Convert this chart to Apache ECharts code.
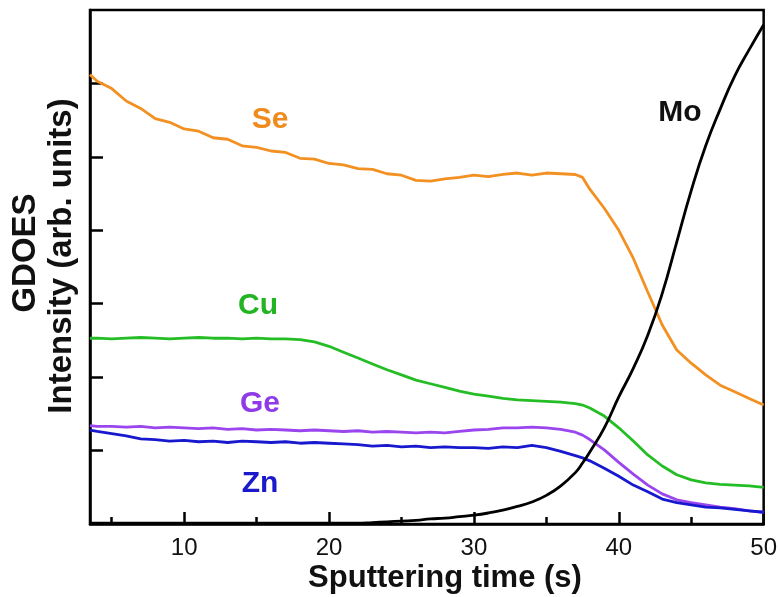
<!DOCTYPE html>
<html>
<head>
<meta charset="utf-8">
<script src="https://cdn.jsdelivr.net/npm/echarts@6/dist/echarts.min.js"></script>
<style>
  html, body { margin: 0; padding: 0; background: #fff; }
  #chart { width: 780px; height: 597px; }
</style>
</head>
<body>
<div id="chart"></div>
<script>
// Sputtering time (s) shared by all element profiles
const times = [3.5, 4, 5, 6, 7, 8, 9, 10, 11, 12, 13, 14, 15, 16, 17, 18, 19, 20,
  21, 22, 23, 24, 25, 26, 27, 28, 29, 30, 31, 32, 33, 34, 35, 36, 37, 37.5, 38,
  39, 40, 41, 42, 43, 44, 45, 46, 47, 48, 49, 50];

// GDOES intensities (arb. units)
const se = [6.12, 6.03, 5.93, 5.76, 5.66, 5.52, 5.47, 5.38, 5.35, 5.26, 5.24, 5.15,
  5.13, 5.08, 5.06, 4.98, 4.97, 4.91, 4.89, 4.84, 4.83, 4.77, 4.75, 4.68, 4.67,
  4.70, 4.72, 4.75, 4.73, 4.76, 4.78, 4.75, 4.78, 4.77, 4.76, 4.72, 4.56, 4.30,
  4.00, 3.62, 3.16, 2.71, 2.37, 2.19, 2.03, 1.89, 1.80, 1.71, 1.62];
const cu = [2.53, 2.53, 2.52, 2.53, 2.54, 2.53, 2.52, 2.53, 2.54, 2.53, 2.53, 2.52,
  2.53, 2.52, 2.52, 2.51, 2.48, 2.42, 2.34, 2.26, 2.18, 2.10, 2.03, 1.96, 1.91,
  1.86, 1.81, 1.77, 1.74, 1.71, 1.69, 1.68, 1.67, 1.66, 1.64, 1.62, 1.58, 1.47,
  1.31, 1.13, 0.94, 0.79, 0.67, 0.60, 0.56, 0.54, 0.53, 0.52, 0.50];
const ge = [1.34, 1.33, 1.33, 1.32, 1.33, 1.31, 1.32, 1.31, 1.30, 1.31, 1.29, 1.30,
  1.28, 1.29, 1.28, 1.27, 1.28, 1.27, 1.26, 1.27, 1.25, 1.26, 1.25, 1.24, 1.25,
  1.24, 1.26, 1.28, 1.29, 1.31, 1.31, 1.32, 1.31, 1.29, 1.25, 1.21, 1.15, 1.01,
  0.84, 0.68, 0.53, 0.41, 0.33, 0.29, 0.26, 0.23, 0.21, 0.18, 0.16];
const zn = [1.28, 1.26, 1.23, 1.20, 1.16, 1.15, 1.13, 1.14, 1.12, 1.13, 1.11, 1.13,
  1.12, 1.11, 1.12, 1.10, 1.11, 1.10, 1.09, 1.08, 1.06, 1.07, 1.05, 1.06, 1.04,
  1.05, 1.04, 1.04, 1.03, 1.05, 1.04, 1.07, 1.04, 0.99, 0.93, 0.90, 0.86, 0.76,
  0.65, 0.53, 0.44, 0.34, 0.29, 0.26, 0.23, 0.22, 0.20, 0.18, 0.16];
const mo = [0.01, 0.01, 0.01, 0.01, 0.01, 0.01, 0.01, 0.01, 0.01, 0.01, 0.01, 0.01,
  0.01, 0.01, 0.01, 0.01, 0.01, 0.01, 0.01, 0.01, 0.02, 0.03, 0.04, 0.05, 0.07,
  0.08, 0.10, 0.12, 0.15, 0.19, 0.24, 0.30, 0.39, 0.52, 0.70, 0.83, 0.98, 1.31,
  1.73, 2.12, 2.57, 3.14, 3.84, 4.54, 5.15, 5.65, 6.10, 6.46, 6.80];

const xMajorTicks = [10, 20, 30, 40, 50];
const xMinorTicks = [5, 15, 25, 35, 45];
const yTicks = [1, 2, 3, 4, 5, 6];

const elements = [
  { name: 'Se', values: se, color: '#f39022', smooth: false },
  { name: 'Cu', values: cu, color: '#25bd25', smooth: false },
  { name: 'Ge', values: ge, color: '#9a45ee', smooth: false },
  { name: 'Zn', values: zn, color: '#1818cf', smooth: false },
  { name: 'Mo', values: mo, color: '#000000', smooth: 0.5 }
];

const font = '"Liberation Sans", Arial, sans-serif';

const chart = echarts.init(document.getElementById('chart'), null, { renderer: 'canvas' });

const baseX = {
  type: 'value', min: 3.5, max: 50, gridIndex: 0,
  splitLine: { show: false }
};

function label(text, x, y, color, size, rotation) {
  return {
    type: 'text', x: x, y: y, rotation: rotation || 0,
    style: { text: text, fill: color, font: 'bold ' + size + 'px ' + font,
      textAlign: 'center', textVerticalAlign: 'middle' }
  };
}

chart.setOption({
  animation: false,
  backgroundColor: '#fff',
  grid: {
    left: 90, top: 10, right: 7, bottom: 73,
    show: true, borderColor: '#000', borderWidth: 2.5, backgroundColor: 'transparent'
  },
  xAxis: [
    Object.assign({}, baseX, {
      position: 'bottom',
      axisLine: { show: true, lineStyle: { color: '#000', width: 2.5 } },
      axisTick: { show: true, inside: true, length: 12, customValues: xMajorTicks,
        lineStyle: { color: '#000', width: 2.5 } },
      axisLabel: { show: true, customValues: xMajorTicks, margin: 12,
        color: '#111', fontSize: 24, fontFamily: font }
    }),
    Object.assign({}, baseX, {
      position: 'bottom',
      axisLine: { show: false },
      axisTick: { show: true, inside: true, length: 7, customValues: xMinorTicks,
        lineStyle: { color: '#000', width: 2.5 } },
      axisLabel: { show: false }
    })
  ],
  yAxis: {
    type: 'value', min: 0, max: 7,
    axisLine: { show: true, lineStyle: { color: '#000', width: 2.5 } },
    axisTick: { show: true, inside: true, length: 13, customValues: yTicks,
      lineStyle: { color: '#000', width: 2.5 } },
    axisLabel: { show: false },
    splitLine: { show: false }
  },
  series: elements.map(el => ({
    name: el.name,
    type: 'line',
    xAxisIndex: 0,
    data: times.map((t, i) => [t, el.values[i]]),
    showSymbol: false,
    smooth: el.smooth,
    lineStyle: { color: el.color, width: 2.8 },
    z: el.name === 'Mo' ? 5 : 3
  })),
  graphic: [
    label('Sputtering time (s)', 445, 578, '#111', 31),
    label('GDOES', 26, 253, '#111', 33, Math.PI / 2),
    label('Intensity (arb. units)', 62, 256, '#111', 33, Math.PI / 2),
    label('Se', 270, 120, '#f08a1c', 30),
    label('Cu', 258, 306, '#22b422', 30),
    label('Ge', 260, 404, '#8f3ae8', 30),
    label('Zn', 260, 484, '#1a1acc', 30),
    label('Mo', 680, 113, '#111', 30)
  ]
});
</script>
</body>
</html>
